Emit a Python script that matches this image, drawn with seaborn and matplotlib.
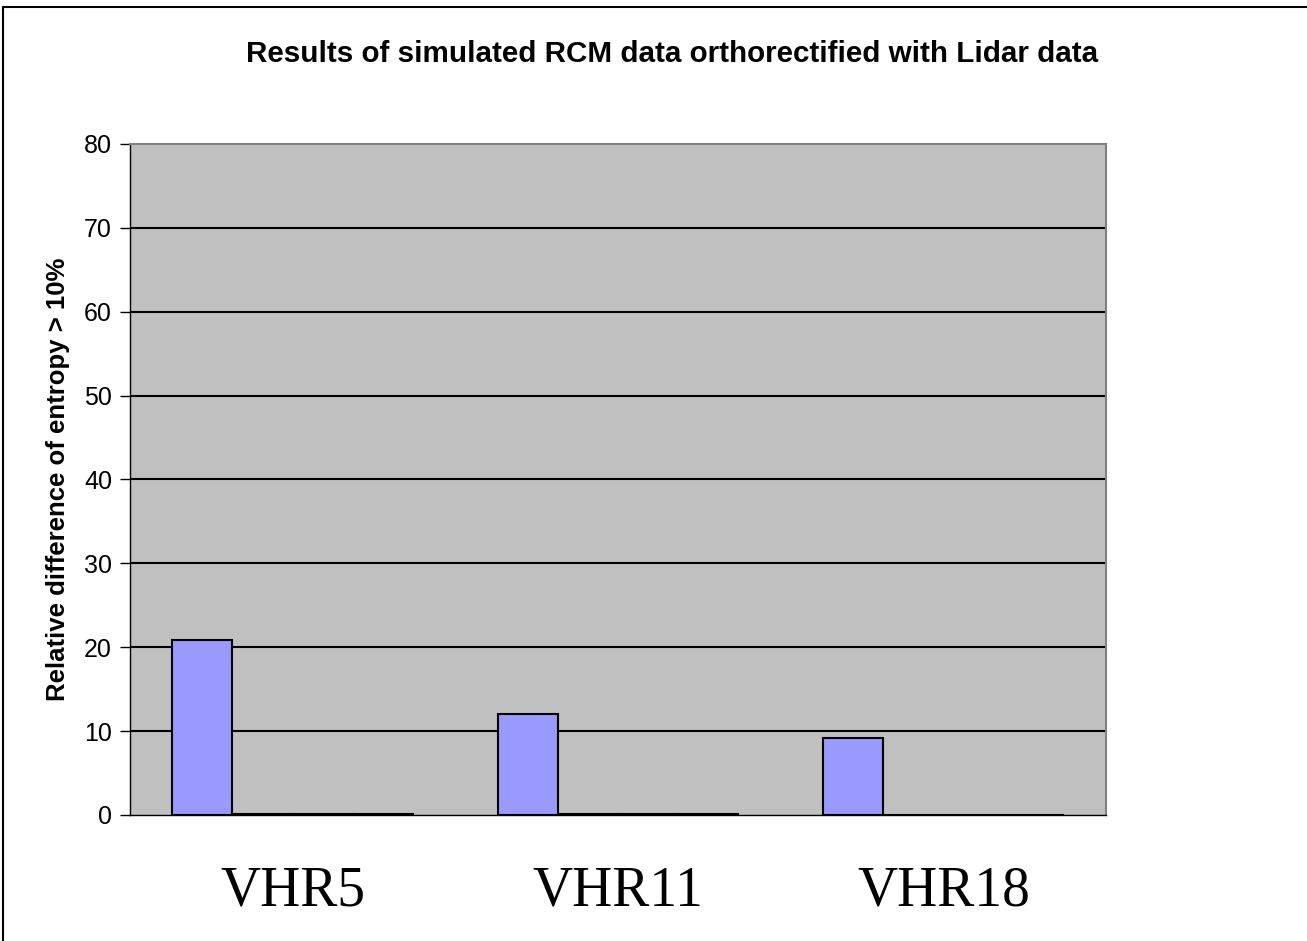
import matplotlib
matplotlib.use("Agg")
import matplotlib.pyplot as plt
import seaborn as sns
import pandas as pd
from matplotlib.lines import Line2D

categories = ["VHR5", "VHR11", "VHR18"]
series_names = ["Series 1", "Series 2", "Series 3", "Series 4"]
series1 = [20.9, 12.0, 9.2]
series2 = [0.15, 0.1, 0.0]
series3 = [0.08, 0.08, 0.0]
series4 = [0.08, 0.08, 0.0]
colors = ["#9999FF", "#993366", "#FFFFCC", "#CCFFFF"]
yticks = [0, 10, 20, 30, 40, 50, 60, 70, 80]

rows = []
for name, vals in zip(series_names, [series1, series2, series3, series4]):
    for c, v in zip(categories, vals):
        rows.append({"cat": c, "series": name, "value": v})
df = pd.DataFrame(rows)

sns.set_theme(style="white")
plt.rcParams["font.family"] = ["Liberation Sans", "DejaVu Sans"]
plt.rcParams["text.color"] = "black"
plt.rcParams["axes.labelcolor"] = "black"
plt.rcParams["xtick.color"] = "black"
plt.rcParams["ytick.color"] = "black"

fig = plt.figure(figsize=(13.07, 9.41), dpi=100)
ax = fig.add_axes([130/1307, 126/941, 976/1307, 671/941])
ax.set_facecolor("#C0C0C0")

sns.barplot(data=df, x="cat", y="value", hue="series", palette=colors,
            width=0.74, saturation=1, edgecolor="black", linewidth=1.5,
            legend=False, ax=ax, zorder=3)

ax.set_ylim(0, 80)
ax.set_xlim(-0.5, 2.5)
ax.set_yticks(yticks)
ax.set_yticklabels([str(t) for t in yticks], fontsize=18)
for y in yticks[1:-1]:
    ax.axhline(y, color="black", lw=1.5, zorder=1)

ax.set_xticks(range(len(categories)))
ax.set_xticklabels(categories, fontsize=40, family=["Liberation Serif", "DejaVu Serif"])
ax.tick_params(axis="x", which="major", length=0, pad=36)
ax.set_xticks([-0.5, 0.5, 1.5, 2.5], minor=True)
ax.tick_params(axis="x", which="minor", length=7, direction="out", color="black", width=1)
ax.tick_params(axis="y", length=7, direction="out", color="black", width=1, left=True, pad=6)
ax.set_xlabel("")
ax.set_ylabel("Relative difference of entropy > 10%", fontsize=18.5, fontweight="bold", labelpad=10)

for s in ["top", "right"]:
    ax.spines[s].set_color("#808080")
    ax.spines[s].set_linewidth(1.5)
ax.spines["left"].set_color("black")
ax.spines["bottom"].set_color("black")
ax.spines["left"].set_linewidth(1)
ax.spines["bottom"].set_linewidth(1)

fig.text(672/1307, 1 - 54/941, "Results of simulated RCM data orthorectified with Lidar data",
         ha="center", va="center", fontsize=21.3, fontweight="bold")

# outer frame of the slide
fig.add_artist(Line2D([3/1307, 1.0], [1 - 7/941, 1 - 7/941], color="black", lw=1.5, transform=fig.transFigure))
fig.add_artist(Line2D([3/1307, 3/1307], [0, 1 - 7/941], color="black", lw=1.5, transform=fig.transFigure))

fig.savefig("out.png", dpi=100)
